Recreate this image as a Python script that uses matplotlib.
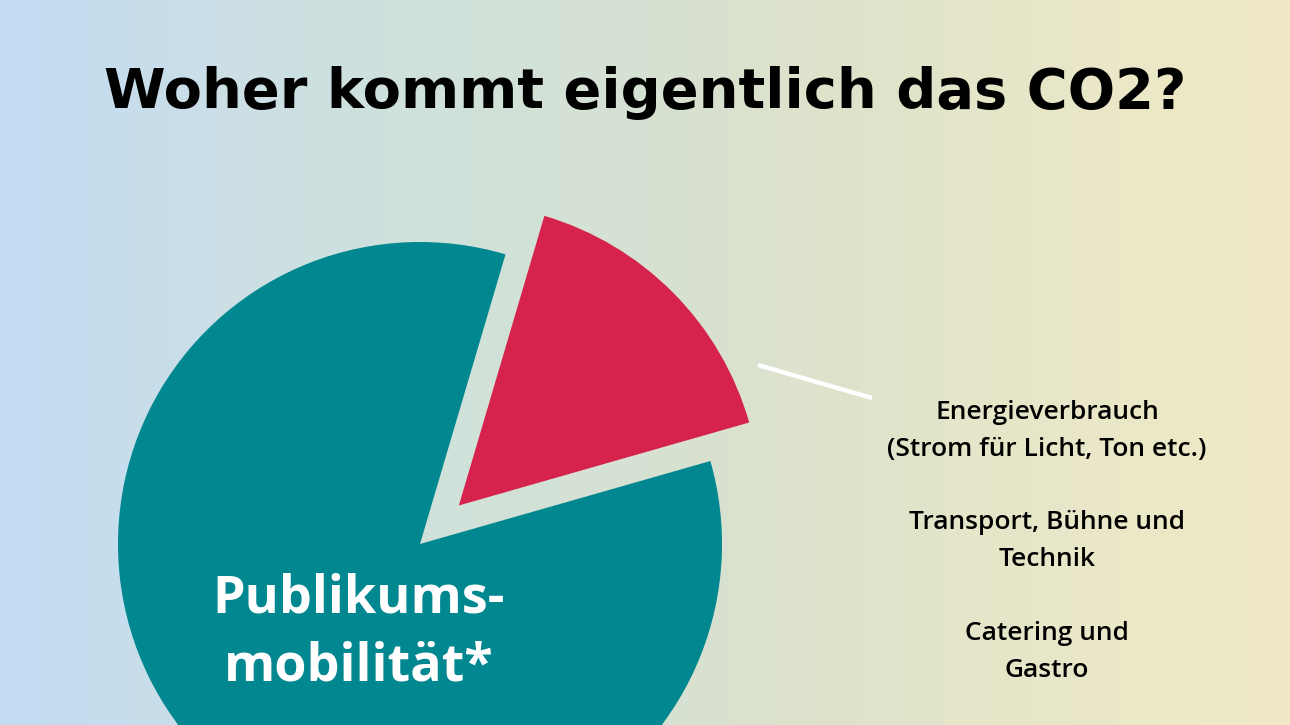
import numpy as np
import matplotlib
matplotlib.use("Agg")
import matplotlib.pyplot as plt
from matplotlib.colors import LinearSegmentedColormap

# data
slice_labels = ["Energieverbrauch", "Publikumsmobilität*"]
slice_values = [16, 84]
slice_colors = ["#d6234d", "#00878f"]
side_labels = [
    "Energieverbrauch\n(Strom für Licht, Ton etc.)",
    "Transport, Bühne und\nTechnik",
    "Catering und\nGastro",
]
title = "Woher kommt eigentlich das CO2?"

W, H = 1290, 725
bg_stops = ["#c4dcf2", "#cbdfe6", "#d0e2da", "#d6e1d2", "#dfe3cb", "#e8e7c8", "#efeac5"]

fig = plt.figure(figsize=(W / 100, H / 100), dpi=100)
ax = fig.add_axes([0, 0, 1, 1])

# stepped horizontal gradient background
cmap = LinearSegmentedColormap.from_list("bg", bg_stops)
steps = np.floor(np.linspace(0, 30, W, endpoint=False)) / 29
ax.imshow(steps[np.newaxis, :], cmap=cmap, aspect="auto",
          extent=[0, W, 0, H], zorder=0, vmin=0, vmax=1)

# pie, center in pixel coords (y up); explode is in data units
cx, cy, r = 420, H - 544, 302
ax.pie(slice_values, colors=slice_colors, startangle=15.95, radius=r,
       center=(cx, cy), explode=[54.7, 0], frame=True,
       wedgeprops=dict(linewidth=0))

ax.set_xlim(0, W)
ax.set_ylim(0, H)
ax.set_aspect("equal")
ax.axis("off")

t = ax.text(645, H - 93, title, ha="center", va="center", fontsize=40,
            fontweight="bold", family="DejaVu Sans", color="black")
# fit title width to the reference (~1080 px)
renderer = fig.canvas.get_renderer()
bw = t.get_window_extent(renderer).width
t.set_fontsize(40 * 1080 / bw)

ax.text(359, H - 633, "Publikums-\nmobilität*", ha="center", va="center",
        fontsize=37.5, fontweight="bold", family="Open Sans",
        color="white", linespacing=1.38)

# connector line to the red slice
ax.plot([758, 872], [H - 365, H - 398], color="white", lw=3.2,
        solid_capstyle="butt")

for txt, y in zip(side_labels, [431, 541, 652]):
    ax.text(1047, H - y, txt, ha="center", va="center", fontsize=19,
            fontweight="semibold", family="Open Sans", color="black",
            linespacing=1.58)

fig.savefig("out.png", dpi=100)
